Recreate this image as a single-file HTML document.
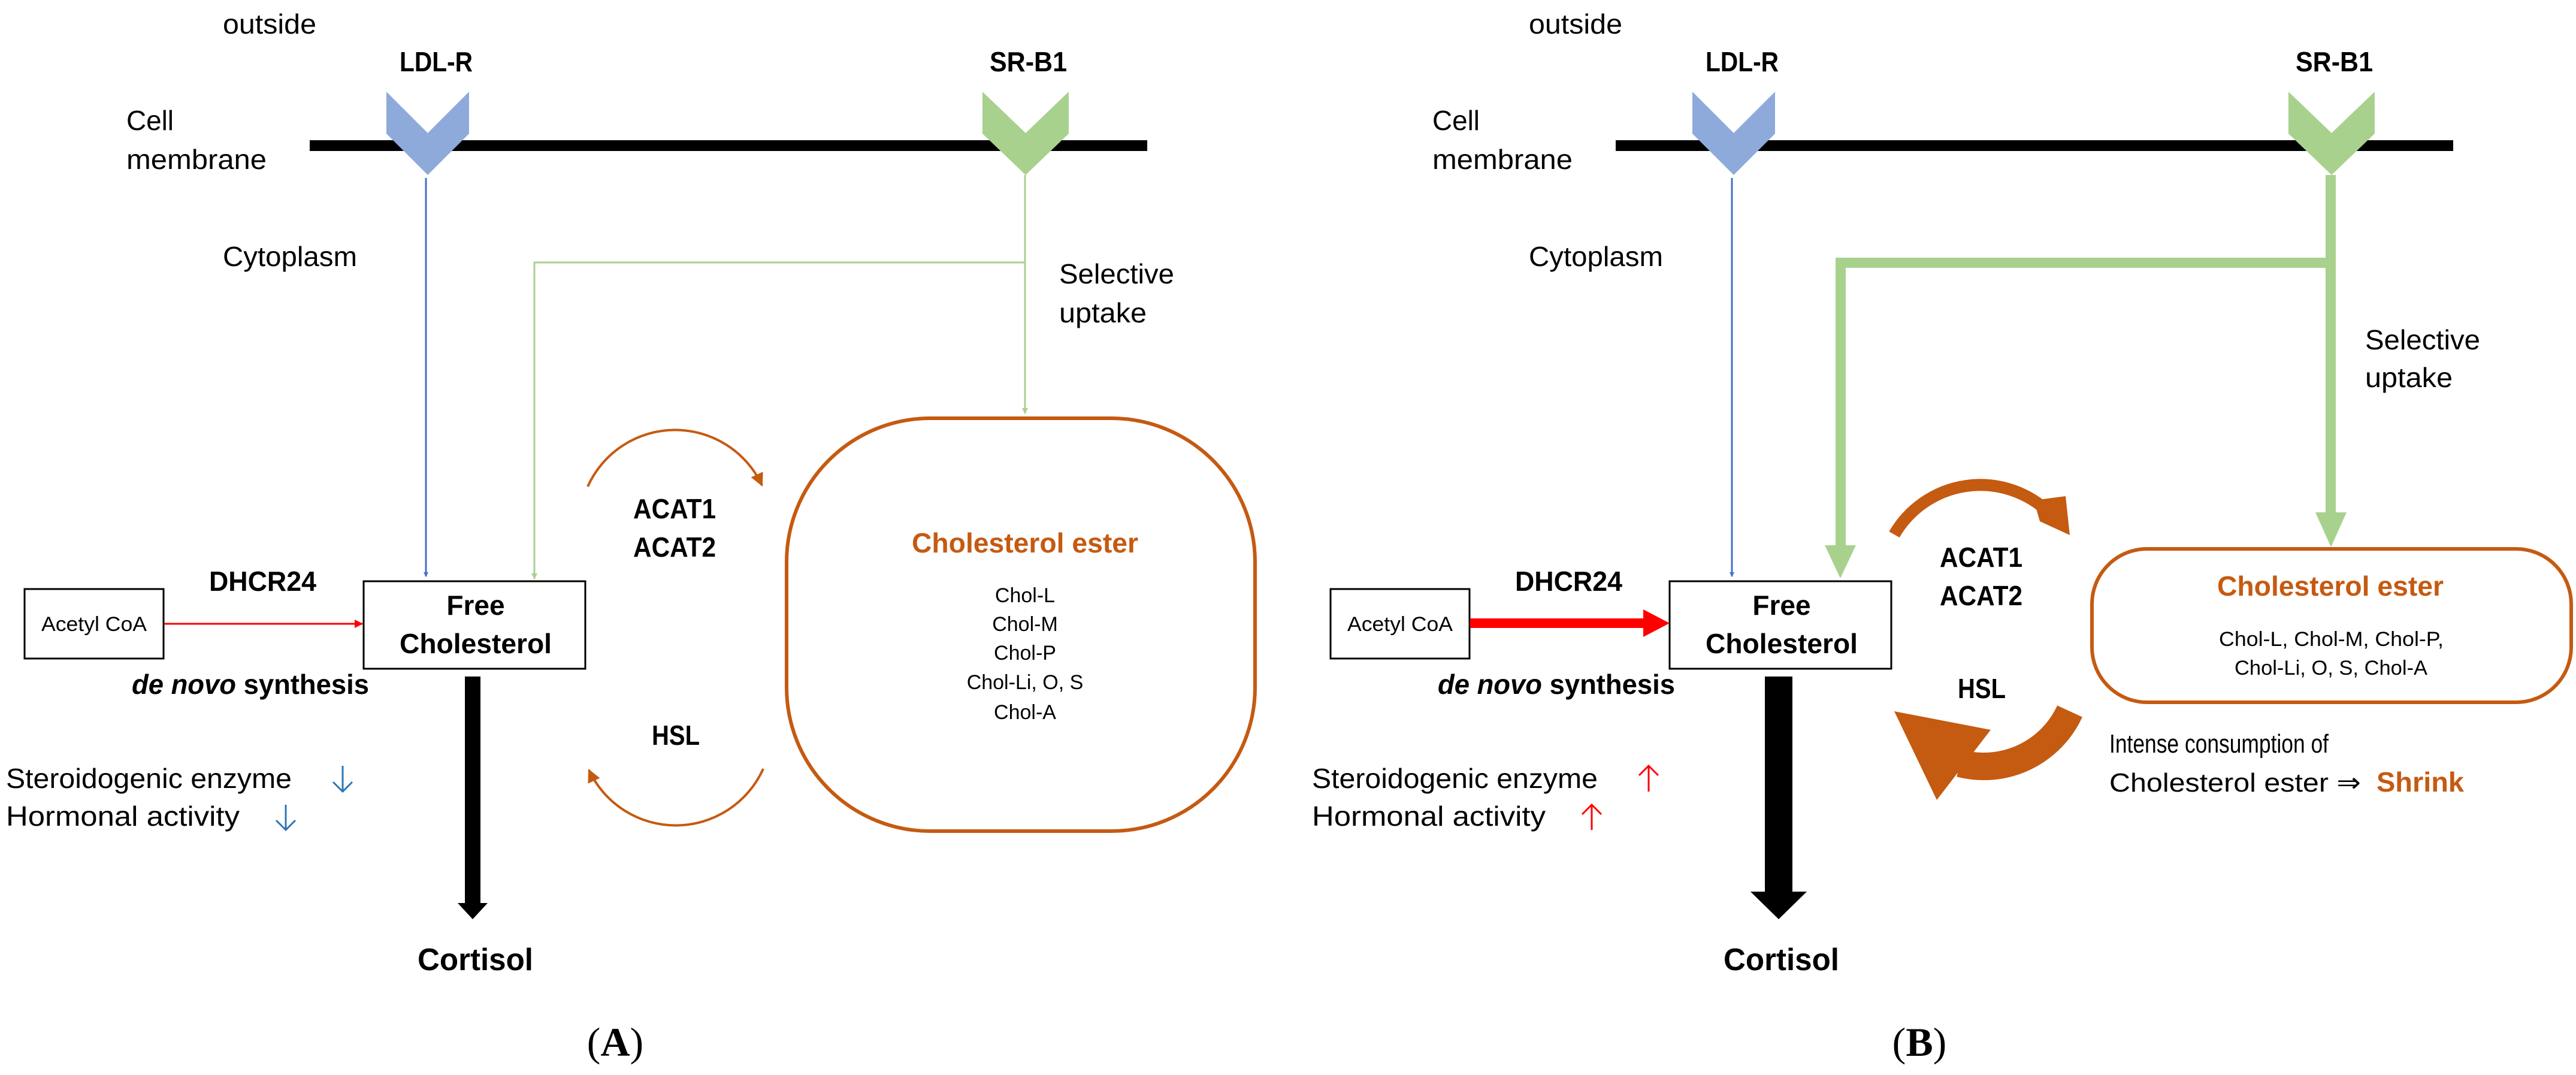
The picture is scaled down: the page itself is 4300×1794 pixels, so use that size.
<!DOCTYPE html>
<html><head><meta charset="utf-8"><style>
html,body{margin:0;padding:0;background:#fff;}
svg{display:block;}
text{font-family:"Liberation Sans",sans-serif;}
.r{font-size:46px;fill:#000;}
.b{font-size:46px;font-weight:bold;fill:#000;}
.s{font-size:34px;fill:#000;}
.o{fill:#c55a11;font-weight:bold;font-size:46px;}
</style></head><body>
<svg width="4300" height="1794" viewBox="0 0 4300 1794" xmlns="http://www.w3.org/2000/svg">
<defs>
<marker id="ab" markerWidth="8" markerHeight="8" refX="7" refY="4" orient="auto" markerUnits="userSpaceOnUse" viewBox="0 0 8 8"><path d="M0,0 L8,4 L0,8z" fill="#4472c4"/></marker>
<marker id="ag" markerWidth="10" markerHeight="10" refX="9" refY="5" orient="auto" markerUnits="userSpaceOnUse" viewBox="0 0 10 10"><path d="M0,0 L10,5 L0,10z" fill="#a9d18e"/></marker>
<marker id="ar" markerWidth="14" markerHeight="14" refX="13" refY="7" orient="auto" markerUnits="userSpaceOnUse" viewBox="0 0 14 14"><path d="M0,0 L14,7 L0,14z" fill="#ff0000"/></marker>
<marker id="ao" markerWidth="22" markerHeight="22" refX="20" refY="11" orient="auto" markerUnits="userSpaceOnUse" viewBox="0 0 22 22"><path d="M0,0 L22,11 L0,22z" fill="#c55a11"/></marker>
</defs>

<!-- ================= PANEL A ================= -->
<g>
<text class="r" x="372" y="56" textLength="156" lengthAdjust="spacingAndGlyphs">outside</text>
<text class="b" x="667" y="119" textLength="122" lengthAdjust="spacingAndGlyphs">LDL-R</text>
<text class="b" x="1652" y="119" textLength="129" lengthAdjust="spacingAndGlyphs">SR-B1</text>
<text class="r" x="211" y="217" textLength="79" lengthAdjust="spacingAndGlyphs">Cell</text>
<text class="r" x="211" y="282" textLength="234" lengthAdjust="spacingAndGlyphs">membrane</text>
<rect x="517" y="234" width="1398" height="18" fill="#000"/>
<polygon points="645,153 714,222 783,153 783,223 714,292 645,223" fill="#8eaadb"/>
<polygon points="1640,153 1712,222 1784,153 1784,223 1712,292 1640,223" fill="#a9d18e"/>
<text class="r" x="372" y="444" textLength="224" lengthAdjust="spacingAndGlyphs">Cytoplasm</text>
<line x1="711" y1="297" x2="711" y2="962" stroke="#4472c4" stroke-width="3" marker-end="url(#ab)"/>
<polyline points="1711,292 1711,690" fill="none" stroke="#a9d18e" stroke-width="3" marker-end="url(#ag)"/>
<polyline points="1711,438 892,438 892,966" fill="none" stroke="#a9d18e" stroke-width="3" marker-end="url(#ag)"/>
<text class="r" x="1768" y="473" textLength="192" lengthAdjust="spacingAndGlyphs">Selective</text>
<text class="r" x="1768" y="538" textLength="146" lengthAdjust="spacingAndGlyphs">uptake</text>

<rect x="1313" y="698" width="782" height="689" rx="240" ry="240" fill="none" stroke="#c55a11" stroke-width="6"/>
<text class="o" x="1522" y="922" textLength="378" lengthAdjust="spacingAndGlyphs">Cholesterol ester</text>
<text class="s" x="1711" y="1005" text-anchor="middle">Chol-L</text>
<text class="s" x="1711" y="1053" text-anchor="middle">Chol-M</text>
<text class="s" x="1711" y="1101" text-anchor="middle">Chol-P</text>
<text class="s" x="1711" y="1150" text-anchor="middle">Chol-Li, O, S</text>
<text class="s" x="1711" y="1200" text-anchor="middle">Chol-A</text>

<path d="M981,812 A160,160 0 0 1 1272,810" fill="none" stroke="#c55a11" stroke-width="4" marker-end="url(#ao)"/>
<path d="M1274,1283 A160,160 0 0 1 983,1285" fill="none" stroke="#c55a11" stroke-width="4" marker-end="url(#ao)"/>
<text class="b" x="1057" y="865" textLength="138" lengthAdjust="spacingAndGlyphs">ACAT1</text>
<text class="b" x="1057" y="929" textLength="138" lengthAdjust="spacingAndGlyphs">ACAT2</text>
<text class="b" x="1088" y="1243" textLength="80" lengthAdjust="spacingAndGlyphs">HSL</text>

<rect x="607" y="970" width="370" height="146" fill="#fff" stroke="#000" stroke-width="3"/>
<text class="b" x="794" y="1026" text-anchor="middle">Free</text>
<text class="b" x="667" y="1090" textLength="254" lengthAdjust="spacingAndGlyphs">Cholesterol</text>

<rect x="41" y="983" width="232" height="116" fill="#fff" stroke="#000" stroke-width="3"/>
<text class="s" x="69" y="1053" textLength="176" lengthAdjust="spacingAndGlyphs">Acetyl CoA</text>
<line x1="274" y1="1041" x2="605" y2="1041" stroke="#ff0000" stroke-width="3" marker-end="url(#ar)"/>
<text class="b" x="349" y="986" textLength="179" lengthAdjust="spacingAndGlyphs">DHCR24</text>
<text class="b" x="220" y="1158" textLength="396" lengthAdjust="spacingAndGlyphs"><tspan font-style="italic">de novo</tspan> synthesis</text>

<text class="r" x="10" y="1315" textLength="477" lengthAdjust="spacingAndGlyphs">Steroidogenic enzyme</text>
<text class="r" x="10" y="1378" textLength="390" lengthAdjust="spacingAndGlyphs">Hormonal activity</text>
<path d="M572,1278 V1321 M556,1305 L572,1321 L588,1305" fill="none" stroke="#2e75b6" stroke-width="3"/>
<path d="M477,1343 V1385 M461,1369 L477,1385 L493,1369" fill="none" stroke="#2e75b6" stroke-width="3"/>

<rect x="776" y="1129" width="26" height="380" fill="#000"/>
<polygon points="764,1507 814,1507 789,1534" fill="#000"/>
<text class="b" x="697" y="1619" textLength="193" lengthAdjust="spacingAndGlyphs" style="font-size:52px">Cortisol</text>
<text x="1027" y="1762" text-anchor="middle" style="font-family:'Liberation Serif',serif;font-size:68px">(<tspan font-weight="bold">A</tspan>)</text>
</g>

<!-- ================= PANEL B ================= -->
<g>
<text class="r" x="2552" y="56" textLength="156" lengthAdjust="spacingAndGlyphs">outside</text>
<text class="b" x="2847" y="119" textLength="122" lengthAdjust="spacingAndGlyphs">LDL-R</text>
<text class="b" x="3832" y="119" textLength="129" lengthAdjust="spacingAndGlyphs">SR-B1</text>
<text class="r" x="2391" y="217" textLength="79" lengthAdjust="spacingAndGlyphs">Cell</text>
<text class="r" x="2391" y="282" textLength="234" lengthAdjust="spacingAndGlyphs">membrane</text>
<rect x="2697" y="234" width="1398" height="18" fill="#000"/>
<polygon points="2825,153 2894,222 2963,153 2963,223 2894,292 2825,223" fill="#8eaadb"/>
<polygon points="3820,153 3892,222 3964,153 3964,223 3892,292 3820,223" fill="#a9d18e"/>
<text class="r" x="2552" y="444" textLength="224" lengthAdjust="spacingAndGlyphs">Cytoplasm</text>
<line x1="2891" y1="297" x2="2891" y2="962" stroke="#4472c4" stroke-width="3" marker-end="url(#ab)"/>
<rect x="3882" y="292" width="17" height="565" fill="#a9d18e"/>
<polygon points="3865,855 3917,855 3891,913" fill="#a9d18e"/>
<rect x="3064" y="430" width="835" height="17" fill="#a9d18e"/>
<rect x="3064" y="430" width="17" height="480" fill="#a9d18e"/>
<polygon points="3046,910 3098,910 3072,965" fill="#a9d18e"/>
<text class="r" x="3948" y="583" textLength="192" lengthAdjust="spacingAndGlyphs">Selective</text>
<text class="r" x="3948" y="646" textLength="146" lengthAdjust="spacingAndGlyphs">uptake</text>

<rect x="3492" y="916" width="800" height="256" rx="92" ry="92" fill="none" stroke="#c55a11" stroke-width="6"/>
<text class="o" x="3701" y="994" textLength="378" lengthAdjust="spacingAndGlyphs">Cholesterol ester</text>
<text class="s" x="3704" y="1078" textLength="375" lengthAdjust="spacingAndGlyphs">Chol-L, Chol-M, Chol-P,</text>
<text class="s" x="3730" y="1126" textLength="322" lengthAdjust="spacingAndGlyphs">Chol-Li, O, S, Chol-A</text>
<text class="r" x="3521" y="1256" textLength="366" lengthAdjust="spacingAndGlyphs" style="font-size:44px">Intense consumption of</text>
<text class="r" x="3521" y="1321" textLength="420" lengthAdjust="spacingAndGlyphs" style="font-size:44px">Cholesterol ester ⇒</text>
<text class="o" x="3967" y="1321" textLength="146" lengthAdjust="spacingAndGlyphs">Shrink</text>

<path d="M3162,892 A166,166 0 0 1 3420,855" fill="none" stroke="#c55a11" stroke-width="20"/>
<polygon points="3395,835 3448,828 3455,893 3405,870" fill="#c55a11"/>
<path d="M3455,1187 A158,158 0 0 1 3272,1274" fill="none" stroke="#c55a11" stroke-width="46"/>
<polygon points="3162,1187 3323,1218 3233,1335" fill="#c55a11"/>
<text class="b" x="3238" y="946" textLength="138" lengthAdjust="spacingAndGlyphs">ACAT1</text>
<text class="b" x="3238" y="1010" textLength="138" lengthAdjust="spacingAndGlyphs">ACAT2</text>
<text class="b" x="3268" y="1165" textLength="80" lengthAdjust="spacingAndGlyphs">HSL</text>

<rect x="2787" y="970" width="370" height="146" fill="#fff" stroke="#000" stroke-width="3"/>
<text class="b" x="2974" y="1026" text-anchor="middle">Free</text>
<text class="b" x="2847" y="1090" textLength="254" lengthAdjust="spacingAndGlyphs">Cholesterol</text>

<rect x="2221" y="983" width="232" height="116" fill="#fff" stroke="#000" stroke-width="3"/>
<text class="s" x="2249" y="1053" textLength="176" lengthAdjust="spacingAndGlyphs">Acetyl CoA</text>
<rect x="2454" y="1032" width="292" height="16" fill="#ff0000"/>
<polygon points="2743,1017 2787,1040 2743,1063" fill="#ff0000"/>
<text class="b" x="2529" y="986" textLength="179" lengthAdjust="spacingAndGlyphs">DHCR24</text>
<text class="b" x="2400" y="1158" textLength="396" lengthAdjust="spacingAndGlyphs"><tspan font-style="italic">de novo</tspan> synthesis</text>

<text class="r" x="2190" y="1315" textLength="477" lengthAdjust="spacingAndGlyphs">Steroidogenic enzyme</text>
<text class="r" x="2190" y="1378" textLength="390" lengthAdjust="spacingAndGlyphs">Hormonal activity</text>
<path d="M2752,1321 V1278 M2736,1294 L2752,1278 L2768,1294" fill="none" stroke="#ff0000" stroke-width="3"/>
<path d="M2657,1385 V1343 M2641,1359 L2657,1343 L2673,1359" fill="none" stroke="#ff0000" stroke-width="3"/>

<rect x="2946" y="1129" width="46" height="362" fill="#000"/>
<polygon points="2922,1488 3016,1488 2969,1534" fill="#000"/>
<text class="b" x="2877" y="1619" textLength="193" lengthAdjust="spacingAndGlyphs" style="font-size:52px">Cortisol</text>
<text x="3204" y="1762" text-anchor="middle" style="font-family:'Liberation Serif',serif;font-size:68px">(<tspan font-weight="bold">B</tspan>)</text>
</g>
</svg>
</body></html>
